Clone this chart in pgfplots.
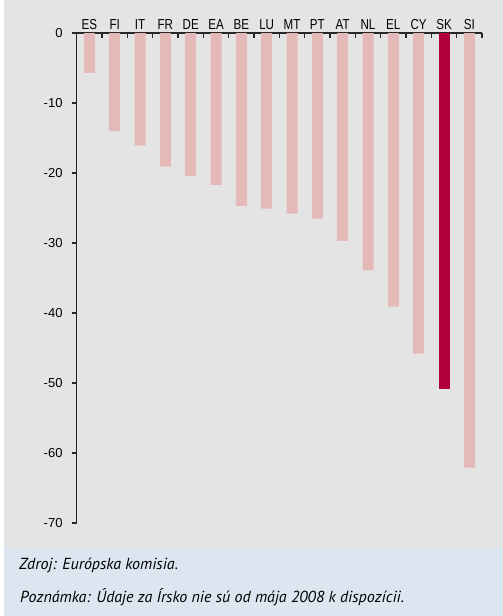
\documentclass[border=0pt]{standalone}
\usepackage{pgfplots}
\pgfplotsset{compat=1.18}
\usepackage{pgfplotstable}
\usepackage{fontspec}
\setmainfont{Liberation Sans}
\newfontfamily\narrowfont[FakeStretch=0.8]{Liberation Sans}
\newfontfamily\notefont{PT Sans}
\definecolor{bgGray}{HTML}{E4E4E4}
\definecolor{bgBlue}{HTML}{DCE6F0}
\definecolor{barPink}{HTML}{E6B9B9}
\definecolor{barRed}{HTML}{B0003A}
\pgfplotstableread{
x val
0 -5.7
1 -14.0
2 -16.1
3 -19.1
4 -20.4
5 -21.7
6 -24.7
7 -25.1
8 -25.8
9 -26.5
10 -29.7
11 -33.9
12 -39.1
13 -45.8
15 -62.1
}\others
\pgfplotstableread{
x val
14 -50.9
}\slovakia
\begin{document}
\begin{tikzpicture}[x=1pt,y=1pt]
\useasboundingbox (0,0) rectangle (503,-616);
\fill[bgGray] (4,0) rectangle (503,-548);
\fill[bgBlue] (4,-548) rectangle (503,-616);
\begin{axis}[
  at={(76.7pt,-523pt)}, anchor=south west,
  scale only axis, width=405.3pt, height=490pt,
  xmin=-0.5, xmax=15.5, ymin=-70, ymax=0,
  axis x line*=top, axis y line*=left,
  axis line style={line width=1.2pt, color=black!85},
  xtick={0,...,15},
  xticklabels={ES,FI,IT,FR,DE,EA,BE,LU,MT,PT,AT,NL,EL,CY,SK,SI},
  major x tick style={draw=none},
  minor xtick={-0.5,0.5,...,15.5},
  minor tick length=4.5pt,
  minor x tick style={line width=1.1pt, color=black!85},
  xtick align=inside,
  ytick align=outside,
  ytick={-70,-60,...,0},
  yticklabels={-70,-60,-50,-40,-30,-20,-10,0},
  major tick length=5pt,
  major y tick style={line width=1.1pt, color=black!85},
  xticklabel style={font=\narrowfont\fontsize{14.5}{14.5}\selectfont, inner sep=0pt, text depth=0pt, yshift=3pt},
  yticklabel style={font=\fontsize{13}{13}\selectfont, inner sep=0pt, xshift=-9pt},
  clip=false,
]
\addplot[ybar, bar width=11pt, bar shift=0pt, fill=barPink, draw=none] table[x=x,y=val] {\others};
\addplot[ybar, bar width=11pt, bar shift=0pt, fill=barRed, draw=none] table[x=x,y=val] {\slovakia};
\end{axis}
\node[anchor=base west, inner sep=0pt, font=\notefont\itshape\fontsize{16}{16}\selectfont] at (19,-569) {Zdroj: Európska komisia.};
\node[anchor=base west, inner sep=0pt, font=\notefont\itshape\fontsize{16}{16}\selectfont] at (20,-602) {Poznámka: Údaje za Írsko nie sú od mája 2008 k dispozícii.};
\end{tikzpicture}
\end{document}
